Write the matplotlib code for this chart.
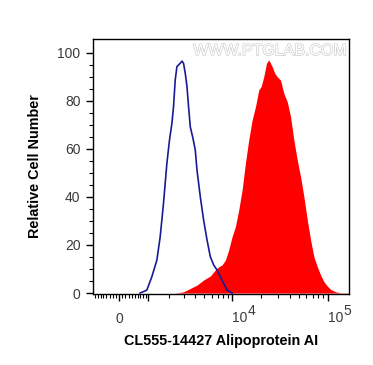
import numpy as np
import matplotlib
matplotlib.use("Agg")
import matplotlib.pyplot as plt
import matplotlib.patheffects as pe
from matplotlib.transforms import offset_copy

plt.rcParams['font.family'] = ['Liberation Sans', 'DejaVu Sans']

# Control (blue outline) histogram: intensity vs relative cell number
ctrl_x = [689, 937, 1139, 1357, 1512, 1676, 1856, 2003, 2145, 2244, 2352, 2464,
          2575, 2695, 2823, 2943, 3081, 3221, 3359, 3509, 3760, 3989, 4164, 4527,
          4919, 5356, 5814, 6309, 6861, 7442, 8073, 8772, 9908]
ctrl_y = [0, 1.2, 6.8, 13.7, 23.4, 37.3, 54.0, 63.7, 70.6, 77.5, 88.6, 94.2,
          94.9, 95.6, 96.5, 95.6, 91.4, 85.9, 77.5, 69.2, 64.4, 59.5, 51.2, 40.1,
          30.4, 22.1, 15.1, 11.7, 9.6, 6.8, 4.0, 1.2, 0]

# Stained sample (red filled) histogram
samp_x = [2352, 2943, 3509, 4164, 4919, 5814, 6580, 7139, 7760, 8413, 9123, 9908,
          10746, 11650, 12660, 13710, 14860, 16140, 17500, 18950, 20080, 21390,
          22850, 24160, 26240, 27940, 29620, 32090, 34760, 37760, 40900, 44300,
          48110, 52130, 56460, 61300, 66410, 71920, 78130, 84630, 91700, 99550,
          107800, 121700, 137400, 168100]
samp_y = [0, 0.5, 1.9, 3.3, 5.4, 7.1, 9.6, 10.9, 11.7, 13.7, 17.9, 23.4,
          27.6, 34.5, 42.9, 54.0, 63.7, 72.0, 77.5, 84.5, 85.9, 90.0,
          95.6, 97.0, 94.2, 91.4, 90.0, 88.6, 83.1, 79.6, 73.4, 63.7,
          55.3, 48.4, 40.1, 30.4, 22.1, 15.1, 10.9, 7.5, 4.7, 2.9,
          1.5, 0.5, 0.1, 0.1]

x_ticks = [0, 1000, 10000, 100000]
x_ticklabels = ['0', '', '', '']
x_pow_ticks = [10000, 100000]
x_pow_exps = ['4', '5']
y_ticks = [0, 20, 40, 60, 80, 100]

C = 1297.0
def fwd(x):
    return np.arcsinh(np.asarray(x, dtype=float) / C)
def inv(u):
    return C * np.sinh(np.asarray(u, dtype=float))

fig = plt.figure(figsize=(3.73, 3.65), dpi=100)
ax = fig.add_axes([93/373, 1-294/365, (349-93)/373, (294-39)/365])
ax.set_xscale('function', functions=(fwd, inv))

ax.fill_between(samp_x, samp_y, 0, color='#ff0000', linewidth=0, zorder=2)
ax.plot(ctrl_x, ctrl_y, color='#1a1a96', linewidth=1.2, zorder=3)

ax.set_xlim(-872, 168000)
ax.set_ylim(-0.4, 105.7)

ax.set_xticks(x_ticks)
ax.set_xticklabels(x_ticklabels)
minor_x = [v for v in range(-800, 1000, 100) if v != 0]
minor_x += list(range(2000, 10000, 1000)) + list(range(20000, 100000, 10000))
ax.set_xticks(minor_x, minor=True)
ax.set_yticks(y_ticks)
ax.set_yticks(np.arange(0, 105, 5), minor=True)

lab_col = '#3a3a3a'
ax.tick_params(axis='both', which='major', direction='out', length=5, width=1,
               labelsize=10, labelcolor=lab_col, pad=4)
ax.tick_params(axis='both', which='minor', direction='out', length=3, width=0.8)
ax.tick_params(axis='x', which='major', pad=8)

# power-of-ten labels: "10" left-aligned at the tick, raised exponent
xt = ax.get_xaxis_transform()
for v, e in zip(x_pow_ticks, x_pow_exps):
    ax.text(v, -0.1098, '10', transform=xt, ha='left', va='baseline',
            fontsize=10, color=lab_col)
    ax.text(v, -0.1098, e, transform=offset_copy(xt, fig=fig, x=11.2, y=5.2, units='points'),
            ha='left', va='baseline', fontsize=10, color=lab_col)

for s in ax.spines.values():
    s.set_linewidth(1.0)

ax.set_ylabel('Relative Cell Number', fontsize=10.4, fontweight='bold')
ax.yaxis.set_label_coords(-0.199, 0.5)
ax.set_xlabel('CL555-14427 Alipoprotein AI', fontsize=10.4, fontweight='bold')
ax.xaxis.set_label_coords(0.502, -0.158)

ax.text(0.992, 0.984, 'WWW.PTGLAB.COM', transform=ax.transAxes, ha='right', va='top',
        fontsize=11.5, color='white', zorder=5,
        path_effects=[pe.withStroke(linewidth=1.0, foreground='#cfcfcf')])

fig.savefig('out.png', dpi=100)
